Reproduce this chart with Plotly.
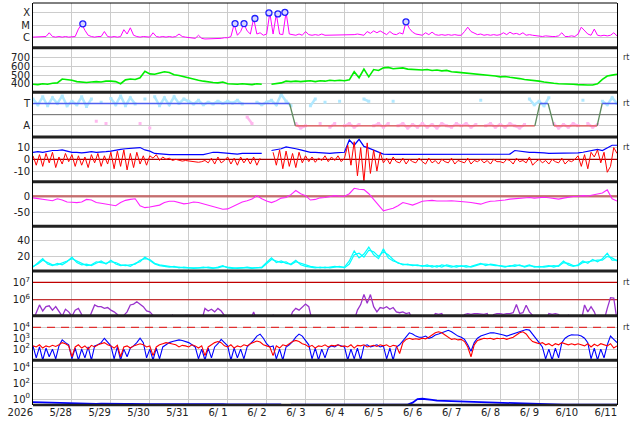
import numpy as np
import plotly.graph_objects as go
from plotly.subplots import make_subplots

# x axis is days since 2026-05-27 00UT, 15 days shown
day_labels = ["2026", "5/28", "5/29", "5/30", "5/31", "6/ 1", "6/ 2", "6/ 3",
              "6/ 4", "6/ 5", "6/ 6", "6/ 7", "6/ 8", "6/ 9", "6/10", "6/11"]

# ---- panel 1: x-ray flux, log10 W/m2, 2-hourly
xray_log = [
    -5.95, -5.95, -5.9, -5.95, -5.9, -5.6, -5.9, -5.95, -5.9, -5.95, -5.9, -5.95,
    -5.95, -5.9, -5.3, -4.9, -5.4, -5.8, -5.9, -5.95, -5.9, -5.9, -5.5, -5.9,
    -5.95, -5.9, -5.95, -5.9, -5.35, -5.7, -5.2, -5.8, -5.9, -5.95, -5.9, -5.95,
    -5.95, -5.6, -5.9, -5.95, -5.9, -5.95, -5.9, -5.95, -5.9, -5.7, -5.9, -5.95,
    -6.0, -6.0, -6.05, -5.8, -6.05, -6.1, -6.1, -6.1, -6.05, -6.05, -6.05, -6.0,
    -6.0, -5.9, -4.9, -5.8, -5.5, -4.87, -5.45, -5.7, -4.45, -5.7, -5.6, -5.8,
    -5.7, -4.0, -5.7, -4.1, -5.7, -5.75, -3.95, -5.7, -5.75, -5.8, -5.7, -5.8,
    -5.5, -5.75, -5.8, -5.75, -5.8, -5.7, -5.8, -5.8, -5.75, -5.8, -5.75, -5.8,
    -5.8, -5.75, -5.8, -5.75, -5.7, -5.75, -5.8, -5.5, -5.65, -5.45, -5.6, -5.45,
    -5.6, -5.75, -5.5, -5.7, -5.75, -5.6, -5.7, -4.7, -5.25, -5.55, -5.7, -5.75,
    -5.8, -5.6, -5.75, -5.55, -5.75, -5.8, -5.75, -5.8, -5.75, -5.8, -5.75, -5.8,
    -5.8, -5.5, -5.15, -5.5, -5.65, -5.75, -5.7, -5.8, -5.75, -5.8, -5.75, -5.8,
    -5.75, -5.6, -5.75, -5.55, -5.7, -5.65, -5.75, -5.6, -5.8, -5.75, -5.8, -5.85,
    -5.9, -5.9, -5.85, -5.9, -5.9, -5.9, -5.85, -5.6, -5.9, -5.9, -5.85, -5.9,
    -5.7, -5.15, -5.45, -5.7, -5.8, -5.3, -5.8, -5.85, -5.8, -5.85, -5.8, -5.6,
    -5.85]
flare_days = [1.28, 5.19, 5.42, 5.70, 6.06, 6.29, 6.47, 9.58]
flare_log = [-4.88, -4.86, -4.86, -4.45, -4.0, -4.08, -3.95, -4.72]

# ---- panel 2: solar wind speed km/s, 3-hourly
speed = [
    395, 390, 400, 395, 405, 410, 455, 450,
    440, 425, 420, 415, 420, 425, 420, 430,
    430, 425, 400, 445, 455, 450, 470, 545,
    515, 510, 525, 540, 530, 505, 495, 480,
    465, 455, 440, 430, 420, 415, 410, 420,
    400, 395, 395, 400, 395, 390, 400, 395,
    None, 395, 400, 410, 430, 425, 430, 425,
    430, 435, 425, 435, 430, 440, 435, 440,
    435, 445, 540, 470, 570, 480, 565, 555,
    585, 590, 575, 580, 585, 570, 565, 560,
    560, 565, 555, 560, 550, 555, 540, 535,
    530, 520, 515, 510, 505, 505, 500, 490,
    480, 485, 475, 470, 460, 450, 445, 440,
    430, 420, 410, 405, 400, 400, 395, 395,
    390, 385, 385, 385, 400, 450, 490, 500,
    510]

# ---- panel 3: IMF sector (T above 0.5, A below), 3-hourly
phi = [
    0.85, 0.72, 0.9, 0.7, 0.88, 0.75, 0.92, 0.7,
    0.8, 0.72, 0.9, 0.68, 0.85, 0.35, 0.78, 0.3,
    0.86, 0.72, 0.92, 0.7, 0.88, 0.74, 0.3, 0.85,
    0.2, 0.9, 0.7, 0.88, 0.72, 0.9, 0.75, 0.85,
    0.8, 0.74, 0.82, 0.72, 0.78, 0.74, 0.8, 0.75,
    0.8, 0.76, 0.82, 0.74, 0.45, 0.3, 0.78, 0.72,
    0.78, 0.82, 0.72, 0.95, 0.8, 0.7, 0.3, 0.2,
    0.25, 0.7, 0.85, 0.3, 0.78, 0.22, 0.3, 0.8,
    0.25, 0.3, 0.22, 0.28, 0.85, 0.8, 0.25, 0.3,
    0.22, 0.3, 0.8, 0.25, 0.3, 0.2, 0.28, 0.22,
    0.3, 0.22, 0.28, 0.2, 0.3, 0.25, 0.22, 0.3,
    0.25, 0.3, 0.22, 0.28, 0.82, 0.25, 0.3, 0.22,
    0.28, 0.22, 0.3, 0.25, 0.2, 0.28, 0.85, 0.72,
    0.8, 0.7, 0.88, 0.3, 0.2, 0.28, 0.22, 0.3,
    0.25, 0.82, 0.3, 0.22, 0.28, 0.8, 0.72, 0.88,
    0.75]
pol_days = [0, 6.59, 6.74, 12.89, 13.02, 13.23, 13.38, 14.49, 14.62, 15]
pol_state = ["T", "T", "A", "A", "T", "T", "A", "A", "T", "T"]

# ---- panel 4: IMF Bt (3-hourly) and Bz (2-hourly), nT
bt = [
    6, 6.5, 6, 7, 7.5, 7.5, 8, 7,
    6, 6, 5.5, 6, 6.5, 6, 6, 6.5,
    7, 8, 8.5, 9, 9.5, 10, 10, 8,
    7, 5, 4.5, 4.5, 4, 4, 4, 4,
    4, 4, 3.5, 4, 5, 6, 6, 5.5,
    5, 5, 4.5, 5, 5, 5.5, 5, 5,
    None, 7.5, 8, 9, 10.5, 10, 9, 8,
    7, 6, 6, 5.5, 5.5, 5, 5.5, 5.5,
    6, 16.5, 12, 17, 11, 9.5, 8, 6,
    4.5, 4.2, 4.2, 4.2, 4.5, 4.2, 4, 4.2,
    4.2, 4, 4.2, 4.2, 4, 4.2, 4.2, 4,
    4.2, 4.2, 4, 4.2, 4.2, 4, 4.2, 4.5,
    4.5, 4.5, 4.5, 7.5, 7, 6, 6, 6,
    6, 5.5, 5, 5, 5.5, 5, 5, 5.5,
    5.5, 6, 7, 8, 8.5, 7.5, 10, 12,
    12]
bz = [
    3, -5, 4, -6, 5, -3, 6, -7, 2, -4, 5, -2,
    4, -6, 3, -5, 2, -7, 4, -3, 5, -6, 3, -4,
    6, -8, 7, -6, 8, -9, 5, -7, 6, -4, 3, -5,
    3, 1, 4, -1, 2, 0, 1, -1, 0, -1, -1.5, -1,
    -1.5, -2, -2, -2.5, -2, -1, -3, 1, -4, 2, -3, -1,
    2, -4, 1, -5, 2, -3, 1, -4, 2, -5, 1, None,
    None, None, 6, -5, 8, -8, 7, -6, 5, -7, 6, -3,
    3, -2, 2, -2.5, 1, -1, 3, -2, 2, -1, 3, -2,
    1, 12, -5, 15, -14, 10, -19, 14, -12, 8, -10, 6,
    -3, 1, -4, 2, -2, -3, 1, -4, 0, -2, -3, 1,
    -2, -4, 1, -3, -1, -4, 0, -2, -3, 1, -4, -1,
    -2, -3, 1, -4, -1, -2, 0, -3, -1, -4, 0, -2,
    -2, -3, 0, -1, -4, 1, -2, -1, -3, 2, -5, -2,
    0, -3, -1, -4, 0, -2, -3, 1, -4, -1, -2, 0,
    3, -6, 4, -8, 6, 2, 8, -3, 6, -11, -6, 10,
    5]

# ---- panel 5: Dst nT, 3-hourly
dst = [
    -5, -8, -10, -12, -14, -8, -12, -18,
    -19, -20, -18, -10, -12, -20, -22, -24,
    -26, -30, -20, -13, -10, -8, -30, -36,
    -34, -32, -28, -20, -16, -16, -20, -24,
    -22, -18, -20, -24, -28, -32, -38, -41,
    -40, -33, -25, -18, -14, -9, 2, -8,
    -15, -20, -14, -6, -4, 5, 18, 8,
    2, -12, -10, -5, -4, 0, 2, 0,
    0, 8, 25, 22, 21, 8, -10, -30,
    -46, -42, -38, -30, -20, -24, -28, -22,
    -16, -14, -13, -15, -16, -15, -14, -15,
    -15, -18, -20, -22, -25, -20, -16, -15,
    -14, -12, -9, -8, -6, -5, -4, -6,
    -4, -3, -5, -7, -9, -6, -3, -1,
    0, 2, 1, 4, 5, 10, 20, -8,
    -15]

# ---- panel 6: solar wind density (two monitors), 3-hourly
dens1 = [
    6, 12, 17, 10, 8, 11, 9, 13,
    19, 12, 9, 10, 8, 11, 14, 10,
    15, 10, 8, 9, 7, 11, 13, 19,
    14, 10, 8, 7, 6, 7, 5, 6,
    5, 4.5, 5, 6, 5, 4.5, 6, 8,
    5, 4.5, 5, 5.5, 5, 4.5, 5, 6,
    12, 18, 12, 14, 11, 10, 15, 9,
    7, 6, 5, 6, 5, 6, 7, 6,
    6, 14, 27, 18, 23, 32, 22, 17,
    30, 18, 14, 12, 9, 10, 8, 9,
    7, 9, 6, 8, 6, 9, 7, 6,
    8, 6, 7, 9, 11, 8, 10, 9,
    7, 6, 8, 7, 9, 6, 8, 7,
    6, 7, 8, 6, 8, 14, 9, 7,
    9, 14, 11, 16, 13, 17, 24, 15,
    15]
dens2 = [
    7, 10, 15, 12, 9, 9, 11, 14,
    17, 14, 11, 8, 9, 13, 12, 11,
    13, 12, 9, 8, 9, 10, 15, 17,
    16, 11, 9, 8, 7, 6, 6, 5,
    5, 5, 4.5, 5, 6, 5, 5, 7,
    6, 5, 4.5, 5, 6, 5, 5.5, 5,
    10, 16, 14, 12, 13, 9, 13, 11,
    8, 7, 6, 5, 6, 5, 6, 7,
    5, 10, 22, 24, 19, 28, 26, 20,
    26, 22, 16, 11, 10, 9, 9, 8,
    8, 7, 8, 6, 9, 7, 6, 8,
    7, 8, 6, 8, 10, 10, 9, 8,
    8, 7, 7, 9, 8, 7, 9, 6,
    7, 6, 7, 8, 7, 12, 11, 8,
    8, 12, 13, 14, 15, 15, 20, 18,
    14]

# ---- panel 7: >2MeV electron fluence, log10, 2-hourly
elec_log = [
    4.8, 5.3, 5.7, 5.35, 5.6, 5.65, 5.4, 5.6, 5.3, 5.05, 5.45, 5.3,
    5.05, 5.4, 5.5, 5.1, 4.8, 4.8, 5.2, 5.7, 5.6, 5.6, 5.5, 5.55,
    5.4, 5.3, 5.15, 4.9, 5.1, 5.3, 5.7, 5.75, 5.88, 5.75, 5.6, 5.35,
    5.3, 5.1, 4.8, 4.8, 4.8, 4.8, 4.8, 5.1, 4.8, 4.8, 4.8, 5.1,
    5.1, 4.8, 4.8, 4.8, 4.8, 5.5, 5.35, 5.45, 5.3, 5.5, 5.35, 5.1,
    4.8, 4.8, 4.8, 4.8, 4.8, 4.8, 4.8, 4.8, 5.3, 4.8, 4.8, 4.8,
    4.8, 4.8, 5.1, 4.8, 4.8, 4.8, 4.8, 4.8, 5.3, 5.5, 5.4, 5.6,
    5.75, 5.6, 4.8, 4.8, 4.8, 4.8, 5.05, 4.8, 4.8, 4.8, 4.8, 4.8,
    4.8, 4.8, 4.8, 4.8, 5.4, 5.72, 6.31, 5.8, 6.3, 5.6, 5.3, 5.55,
    5.5, 5.6, 5.45, 5.55, 5.3, 5.25, 5.3, 5.2, 5.25, 4.8, 4.8, 4.8,
    4.8, 4.8, 4.8, 4.8, 5.2, 5.15, 5.2, 4.8, 4.8, 4.8, 4.8, 4.8,
    4.8, 5.15, 5.2, 5.15, 5.2, 5.2, 5.18, 5.15, 5.2, 4.8, 5.15, 5.2,
    5.2, 5.15, 5.2, 5.2, 5.25, 5.72, 5.2, 5.25, 5.68, 5.3, 5.1, 4.8,
    4.8, 4.8, 4.8, 5.2, 5.15, 5.2, 5.15, 4.8, 4.8, 5.1, 4.8, 4.8,
    4.8, 4.8, 5.7, 5.3, 5.6, 5.3, 4.8, 4.8, 4.8, 5.5, 6.12, 6.1,
    4.8]
elec_alert = [1e6, 1e7]

# ---- panel 8: GEO particle flux (blue / red), log10, 2-hourly
geo_blue_log = [
    2.3, 1.2, 2.2, 1.0, 2.1, 1.3, 2.0, 1.1, 2.3, 2.85, 2.6, 2.4,
    1.1, 2.1, 1.0, 2.0, 1.2, 2.2, 1.0, 2.3, 2.4, 2.6, 3.0, 2.6,
    2.3, 1.1, 2.2, 1.0, 2.0, 1.3, 2.1, 2.3, 2.6, 3.0, 2.6, 1.2,
    2.0, 1.0, 2.1, 1.1, 2.2, 2.4, 2.6, 2.7, 2.8, 2.85, 2.8, 2.7,
    2.6, 2.4, 2.2, 1.1, 2.0, 1.0, 2.1, 1.2, 2.2, 2.5, 2.9, 2.6,
    2.3, 1.0, 2.1, 1.2, 2.0, 1.1, 2.2, 2.5, 2.8, 3.2, 3.38, 3.0,
    2.5, 2.2, 2.3, 1.1, 2.0, 1.0, 2.2, 2.4, 2.7, 3.1, 3.38, 3.2,
    2.8, 2.4, 1.1, 2.1, 1.0, 2.0, 1.2, 2.1, 2.3, 2.2, 2.4, 2.3,
    2.2, 1.0, 2.0, 1.1, 2.1, 1.0, 2.3, 2.4, 2.2, 2.3, 2.4, 2.2,
    2.3, 1.1, 2.1, 1.0, 2.2, 2.4, 2.8, 3.2, 3.5, 3.4, 3.2, 3.1,
    3.1, 3.2, 3.0, 3.1, 3.3, 3.4, 3.5, 3.6, 3.74, 3.6, 3.4, 3.2,
    3.1, 2.9, 2.4, 1.8, 2.6, 3.0, 3.2, 3.3, 3.4, 3.5, 3.5, 3.45,
    3.4, 3.3, 3.2, 3.3, 3.4, 3.5, 3.6, 3.7, 3.8, 3.75, 3.4, 3.0,
    2.6, 2.2, 1.1, 2.0, 1.0, 2.1, 1.2, 2.6, 3.0, 3.2, 3.32, 3.3,
    3.3, 3.2, 3.0, 2.6, 1.1, 2.1, 1.0, 2.0, 1.2, 2.4, 3.2, 2.9,
    2.6]
geo_red_log = [
    2.3, 2.2, 2.4, 2.1, 2.3, 2.2, 2.35, 2.25, 2.4, 2.6, 2.5, 2.3,
    1.3, 2.2, 2.4, 2.1, 2.3, 2.0, 2.35, 2.2, 2.4, 2.5, 2.6, 2.4,
    2.3, 2.1, 2.35, 1.3, 2.2, 2.3, 2.1, 2.3, 2.4, 2.5, 2.4, 2.2,
    2.3, 1.4, 2.2, 2.4, 2.5, 2.6, 2.55, 2.5, 2.4, 2.2, 2.35, 2.3,
    2.2, 2.4, 2.3, 2.1, 2.3, 1.4, 2.2, 2.4, 2.6, 2.7, 2.6, 2.3,
    2.2, 2.4, 2.1, 2.3, 2.2, 2.4, 2.3, 2.5, 2.6, 2.75, 2.65, 2.4,
    2.3, 2.2, 1.4, 2.3, 2.1, 2.4, 2.3, 2.5, 2.7, 2.8, 2.7, 2.5,
    2.4, 2.2, 2.35, 2.1, 2.3, 2.25, 2.4, 2.2, 2.35, 2.3, 2.4, 2.25,
    2.3, 2.2, 2.4, 2.1, 2.35, 2.3, 2.4, 2.2, 2.3, 2.35, 2.25, 2.4,
    2.3, 2.4, 2.2, 2.35, 2.3, 1.6, 2.6, 2.9, 3.0, 2.9, 2.95, 2.9,
    3.0, 2.95, 3.1, 3.3, 3.5, 3.6, 3.5, 3.3, 3.1, 2.9, 2.95, 2.85,
    2.9, 2.7, 2.2, 1.3, 2.4, 2.8, 2.9, 3.0, 2.95, 3.0, 2.9, 3.0,
    2.95, 3.0, 2.9, 3.0, 3.1, 3.3, 3.5, 3.6, 3.4, 3.0, 2.7, 2.6,
    2.5, 2.6, 2.4, 2.5, 2.3, 2.5, 2.4, 2.6, 2.5, 2.4, 2.5, 2.4,
    2.5, 2.4, 2.3, 2.5, 2.2, 2.45, 2.3, 2.5, 2.4, 2.3, 2.5, 2.1,
    2.3]
geo_alert = 1e4

# ---- panel 9: proton flux, log10, 3-hourly
prot_log = [
    -0.38, -0.4, -0.42, -0.45, -0.48, -0.5, -0.52, -0.55,
    -0.55, -0.56, -0.58, -0.57, -0.58, -0.6, -0.58, -0.6,
    -0.6, -0.62, -0.6, -0.62, -0.6, -0.63, -0.62, -0.63,
    -0.63, -0.64, -0.62, -0.64, -0.65, -0.64, -0.65, -0.64,
    -0.65, -0.66, -0.64, -0.66, -0.65, -0.67, -0.66, -0.65,
    -0.66, -0.67, -0.66, -0.68, -0.67, -0.66, -0.68, -0.67,
    -0.68, -0.67, -0.68, -0.69, None, -0.7, -0.68, -0.7,
    -0.7, -0.69, -0.7, -0.71, -0.7, -0.7, -0.71, -0.7,
    -0.7, -0.71, -0.7, -0.71, -0.72, -0.7, -0.71, -0.72,
    -0.72, -0.71, -0.72, -0.71, -0.72, -0.7, -0.45, 0.0,
    0.04, 0.0, -0.1, -0.2, -0.22, -0.25, -0.28, -0.3,
    -0.32, -0.35, -0.38, -0.4, -0.42, -0.45, -0.48, -0.5,
    -0.52, -0.55, -0.58, -0.6, -0.62, -0.64, -0.66, -0.68,
    -0.68, -0.7, -0.7, -0.71, -0.7, -0.72, -0.71, -0.72,
    -0.71, -0.72, -0.72, -0.71, -0.72, -0.72, -0.71, -0.72,
    -0.72]

t2 = np.arange(181) / 12.0
t3 = np.arange(121) / 8.0
span = [0, 15]


def lg(vals):
    return [None if v is None else 10 ** v for v in vals]


def line(x, y, color, width=1.0, **kw):
    return go.Scatter(x=x, y=y, mode="lines", line=dict(color=color, width=width),
                      connectgaps=False, hoverinfo="skip", **kw)


fig = make_subplots(rows=9, cols=1, shared_xaxes=True, vertical_spacing=0)

# 1 x-ray
fig.add_trace(line(t2, lg(xray_log), "#ff00ff", 1), row=1, col=1)
fig.add_trace(go.Scatter(x=flare_days, y=lg(flare_log), mode="markers",
                         marker=dict(symbol="circle", size=6, color="#d8d8ff",
                                     line=dict(color="#2020ff", width=1.3))), row=1, col=1)

# 2 speed
fig.add_trace(line(t3, speed, "#00ee00", 1.6), row=2, col=1)

# 3 sector
lev = {"T": 0.75, "A": 0.25}
fig.add_trace(line(span, [0.5, 0.5], "#666666", 1), row=3, col=1)
phi_t = [v if v > 0.5 else None for v in phi]
phi_a = [v if v <= 0.5 else None for v in phi]
fig.add_trace(go.Scatter(x=t3, y=phi_t, mode="lines+markers",
                         line=dict(color="#b0e8ff", width=2.5),
                         marker=dict(symbol="square", size=3, color="#b0e8ff")), row=3, col=1)
fig.add_trace(go.Scatter(x=t3, y=phi_a, mode="lines+markers",
                         line=dict(color="#ffb8ee", width=2.5),
                         marker=dict(symbol="square", size=3, color="#ffb8ee")), row=3, col=1)
for i in range(len(pol_days) - 1):
    a, b = pol_state[i], pol_state[i + 1]
    c = "#5060f0" if a == b == "T" else ("#e05050" if a == b == "A" else "#5e8a5e")
    fig.add_trace(line(pol_days[i:i + 2], [lev[a], lev[b]], c, 1.3), row=3, col=1)

# 4 IMF
fig.add_trace(line(span, [0, 0], "#a00000", 1.2), row=4, col=1)
fig.add_trace(line(t3, bt, "#0000ff", 1.2), row=4, col=1)
fig.add_trace(line(t2, bz, "#ff0000", 1.0), row=4, col=1)

# 5 Dst
fig.add_trace(line(span, [0, 0], "rgba(190,80,80,0.75)", 2.5), row=5, col=1)
fig.add_trace(line(t3, dst, "#ff22ff", 1.1), row=5, col=1)

# 6 density
fig.add_trace(line(t3, dens1, "#00ffff", 1.2), row=6, col=1)
fig.add_trace(line(t3, dens2, "#00ffff", 1.2), row=6, col=1)

# 7 electrons
for lvl in elec_alert:
    fig.add_trace(line(span, [lvl, lvl], "#c00000", 1.2), row=7, col=1)
fig.add_trace(line(t2, lg(elec_log), "#9933cc", 1.3), row=7, col=1)

# 8 GEO flux
fig.add_trace(go.Scatter(x=span, y=[geo_alert, geo_alert], mode="lines",
                         line=dict(color="#e03030", width=1.3, dash="8px,6px")), row=8, col=1)
fig.add_trace(line(t2, lg(geo_blue_log), "#0000ff", 1.1), row=8, col=1)
fig.add_trace(line(t2, lg(geo_red_log), "#ff0000", 1.1), row=8, col=1)

# 9 protons
fig.add_trace(line(t3, lg(prot_log), "#0000ff", 1.8), row=9, col=1)

tick_font = dict(family="DejaVu Sans", size=10, color="#222222")
grid = "#cccccc"
sup = lambda n: "10<sup>%d</sup>" % n

yspec = {
    1: dict(type="log", range=[-6.8, -3.2], tickvals=[1e-6, 1e-5, 1e-4], ticktext=["C", "M", "X"]),
    2: dict(range=[300, 820], tickvals=[400, 500, 600, 700]),
    3: dict(range=[0, 1], tickvals=[0.25, 0.75], ticktext=["A", "T"]),
    4: dict(range=[-19, 19], tickvals=[-10, 0, 10], ticktext=["-10", "0", "10"]),
    5: dict(range=[-95, 46], tickvals=[-50, 0], ticktext=["-50", "0"]),
    6: dict(range=[1, 59], tickvals=[20, 40]),
    7: dict(type="log", range=[5.08, 7.66], tickvals=[1e6, 1e7], ticktext=[sup(6), sup(7)]),
    8: dict(type="log", range=[0.97, 5.08], tickvals=[1e2, 1e3, 1e4], ticktext=[sup(2), sup(3), sup(4)]),
    9: dict(type="log", range=[-0.75, 4.92], tickvals=[1, 1e2, 1e4], ticktext=[sup(0), sup(2), sup(4)]),
}
for r, spec in yspec.items():
    fig.update_yaxes(row=r, col=1, showgrid=True, gridcolor=grid, gridwidth=1,
                     zeroline=False, showline=True, mirror=True, linecolor="black",
                     linewidth=1, ticks="", tickfont=tick_font, tickmode="array",
                     automargin=False, **spec)

fig.update_xaxes(range=span, tickmode="array", tickvals=list(range(16)),
                 showgrid=True, gridcolor=grid, gridwidth=1, zeroline=False,
                 showline=False, ticks="", automargin=False)
fig.update_xaxes(row=9, col=1, ticktext=day_labels, showticklabels=True,
                 ticklabelposition="outside left", tickfont=tick_font)

# thick panel separators
shapes = []
for k in range(1, 9):
    shapes.append(dict(type="line", xref="paper", yref="paper", x0=0, x1=1,
                       y0=k / 9, y1=k / 9, line=dict(color="#222222", width=3)))
shapes.append(dict(type="line", xref="paper", yref="paper", x0=0, x1=1, y0=0, y1=0,
                   line=dict(color="#222222", width=2.5)))
shapes.append(dict(type="line", xref="paper", yref="paper", x0=0, x1=1, y0=1, y1=1,
                   line=dict(color="black", width=1)))

rt_marks = [("y2", 700), ("y3", 0.75), ("y4", 10), ("y7", 7), ("y8", 4)]
annotations = [dict(text="rt", xref="paper", x=1, xanchor="left", xshift=4,
                    yref=ref, y=yv, showarrow=False,
                    font=dict(family="DejaVu Sans", size=8, color="#333333"))
               for ref, yv in rt_marks]

fig.update_layout(width=634, height=424, margin=dict(l=33, r=17, t=3, b=19),
                  paper_bgcolor="white", plot_bgcolor="white", showlegend=False,
                  hovermode=False, shapes=shapes, annotations=annotations)

# the page body has a default 8px margin; drop it so the figure sits at the corner
fig.write_html("out.html", config={"displayModeBar": False},
               post_script="document.body.style.margin='0';")
